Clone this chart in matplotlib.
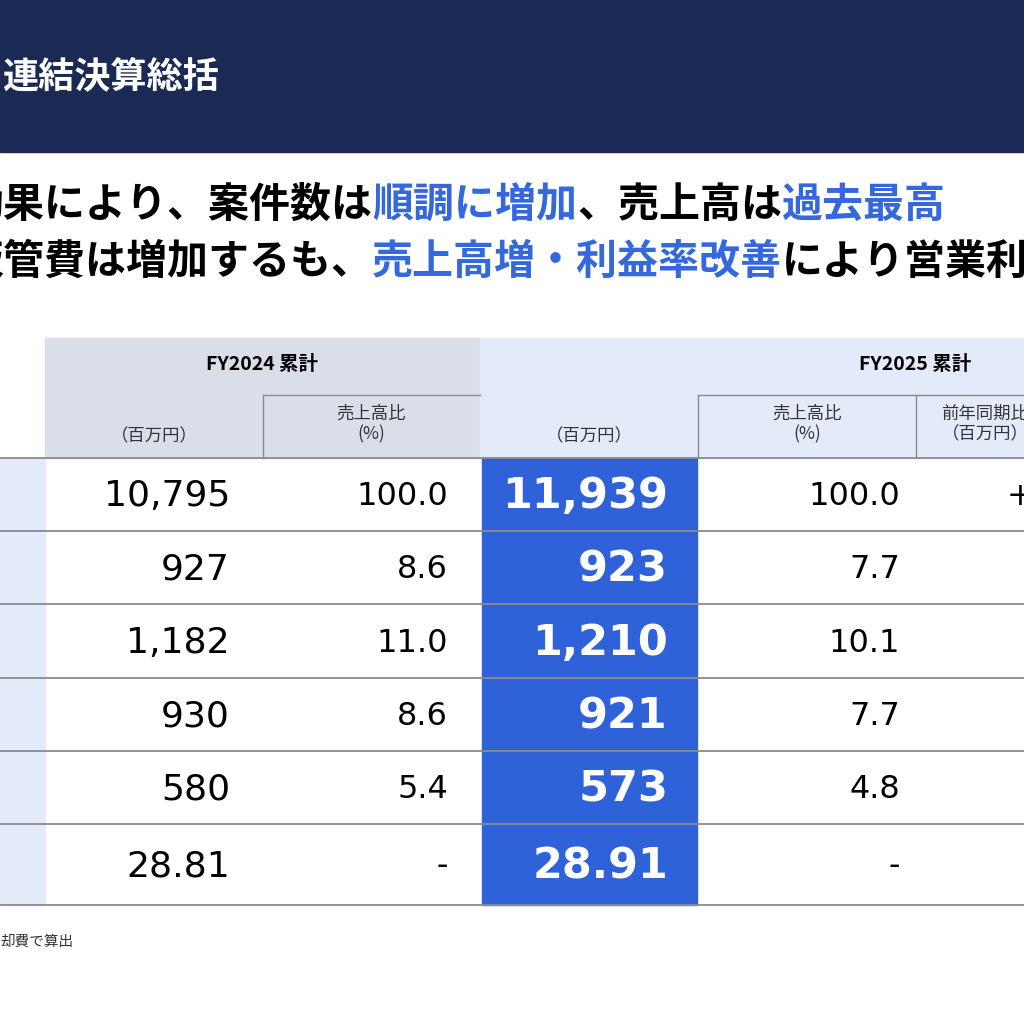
import matplotlib
matplotlib.use("Agg")
import matplotlib.pyplot as plt
from matplotlib.patches import Rectangle

plt.rcParams['font.family'] = ['Noto Sans CJK JP', 'DejaVu Sans']

title = "連結決算総括"
line1 = [("効果により、案件数は", "k"), ("順調に増加", "b"), ("、売上高は", "k"), ("過去最高", "b")]
line2 = [("販管費は増加するも、", "k"), ("売上高増・利益率改善", "b"), ("により営業利益", "k")]
fy24_val = ["10,795", "927", "1,182", "930", "580", "28.81"]
fy24_pct = ["100.0", "8.6", "11.0", "8.6", "5.4", "-"]
fy25_val = ["11,939", "923", "1,210", "921", "573", "28.91"]
fy25_pct = ["100.0", "7.7", "10.1", "7.7", "4.8", "-"]
yoy = ["+1,144", "-4", "+28", "-9", "-7", "+0.10"]
footnote = "却費で算出"

NAVY = "#1B2A55"; BLUE = "#3568DC"; HI = "#2F62D8"
GRAY = "#D9DEE8"; LB = "#E3EBFA"; LINE = "#8A8A8A"

fig = plt.figure(figsize=(10.24, 10.24), dpi=100)
ax = fig.add_axes([0, 0, 1, 1])
ax.set_xlim(0, 1024); ax.set_ylim(1024, 0); ax.axis('off')

ax.add_patch(Rectangle((0, 0), 1024, 152, color=NAVY))
ax.text(2, 78, title, color="white", fontsize=26, fontweight="bold", va="center")

def draw_line(parts, x, y):
    for txt, c in parts:
        t = ax.text(x, y, txt, fontsize=29.5, fontweight="bold", va="center",
                    color=BLUE if c == "b" else "black")
        fig.canvas.draw()
        bb = t.get_window_extent()
        x += bb.width
draw_line(line1, -38, 205)
draw_line(line2, -38, 262)

# header
ax.add_patch(Rectangle((45, 338), 435, 120, color=GRAY))
ax.add_patch(Rectangle((480, 338), 560, 120, color=LB))
ax.text(262, 364, "FY2024 累計", fontsize=14, fontweight="bold", ha="center", va="center")
ax.text(915, 364, "FY2025 累計", fontsize=14, fontweight="bold", ha="center", va="center")
ax.plot([263, 480], [395, 395], color=LINE, lw=1)
ax.plot([698, 1024], [395, 395], color=LINE, lw=1)
for x in (263, 698, 916):
    ax.plot([x, x], [395, 458], color=LINE, lw=1)
hs = 12.5
ax.text(154, 436, "（百万円）", fontsize=hs, ha="center", va="center", color="#333")
ax.text(371, 424, "売上高比\n(%)", fontsize=hs, ha="center", va="center", color="#333", linespacing=1.15)
ax.text(589, 436, "（百万円）", fontsize=hs, ha="center", va="center", color="#333")
ax.text(807, 424, "売上高比\n(%)", fontsize=hs, ha="center", va="center", color="#333", linespacing=1.15)
ax.text(985, 424, "前年同期比\n（百万円）", fontsize=hs, ha="center", va="center", color="#333", linespacing=1.15)

bounds = [458, 531, 604, 678, 751, 824, 905]
ax.add_patch(Rectangle((0, 458), 45, 447, color=LB))
ax.add_patch(Rectangle((482, 458), 215, 447, color=HI))
for i in range(6):
    y0, y1 = bounds[i], bounds[i + 1]
    yc = (y0 + y1) / 2 + 2
    ax.text(230, yc, fy24_val[i], fontsize=26, ha="right", va="center", family="DejaVu Sans")
    ax.text(448, yc, fy24_pct[i], fontsize=23, ha="right", va="center", family="DejaVu Sans")
    ax.text(668, yc, fy25_val[i], fontsize=31, fontweight="bold", color="white", ha="right", va="center", family="DejaVu Sans")
    ax.text(900, yc, fy25_pct[i], fontsize=23, ha="right", va="center", family="DejaVu Sans")
    ax.text(1125, yc, yoy[i], fontsize=23, ha="right", va="center", family="DejaVu Sans", clip_on=True)
for y in bounds:
    ax.plot([0, 1024], [y, y], color=LINE, lw=1.3)

ax.text(0, 942, footnote, fontsize=10.5, va="center", color="#333")
fig.savefig("out.png", dpi=100)
